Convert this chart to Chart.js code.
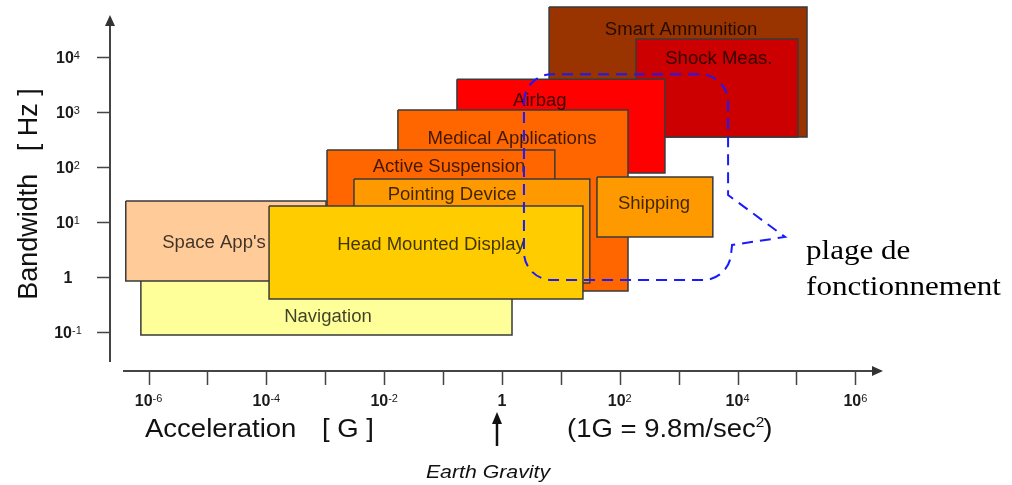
<!DOCTYPE html>
<html>
<head>
<meta charset="utf-8">
<script src="https://cdn.jsdelivr.net/npm/chart.js@4.4.0/dist/chart.umd.min.js"></script>
<style>
  html, body { margin: 0; padding: 0; background: #fff; }
  #wrap { position: relative; width: 1012px; height: 485px; }
</style>
</head>
<body>
<div id="wrap"><canvas id="chart"></canvas></div>
<script>
// application areas, back to front
const areas = ["Smart Ammunition", "Shock Meas.", "Airbag", "Medical Applications", "Active Suspension",
  "Pointing Device", "Shipping", "Navigation", "Space App's", "Head Mounted Display"];
// acceleration range [G]
const accMin = [6.3, 188, 0.172, 0.0171, 1.07e-3, 3.07e-3, 41, 7.4e-7, 4.1e-7, 1.11e-4];
const accMax = [1.51e5, 1.06e5, 585, 138, 7.9, 31, 3.8e3, 1.48, 1.03e-3, 23.7];
// bandwidth range [Hz]
const bwMin = [347, 347, 76.7, 0.55, 0.71, 0.77, 5.27, 0.087, 0.835, 0.394];
const bwMax = [8.0e4, 2.1e4, 3.9e3, 1.07e3, 201, 59.7, 65, 1.3, 23.8, 19.3];
// where each name sits (G, Hz)
const labelAcc = [1.1e3, 4.8e3, 4.4, 1.48, 0.126, 0.142, 381, 1.11e-3, 1.29e-5, 0.0623];
const labelBw = [3.2e4, 9.5e3, 1.63e3, 333, 103, 31.9, 21.9, 0.193, 4.28, 3.94];
const colors = ["#993300", "#cc0000", "#ff0000", "#ff6600", "#ff6600", "#ff9900", "#ff9900", "#ffff99", "#ffcc99", "#ffcc00"];

// "plage de fonctionnement" outline
const rangeAcc = [2.36, 6.9e3];
const rangeBw = [0.87, 4.8e3];
const pointerAt = [6.4e4, 5.27];
const pointerBase = [30.5, 3.77];

// ticks (powers of ten)
const xTickExp = [-6, -5, -4, -3, -2, -1, 0, 1, 2, 3, 4, 5, 6];
const xLabelExp = [-6, -4, -2, 0, 2, 4, 6];
const yTickExp = [-1, 0, 1, 2, 3, 4];

const SANS = '"Liberation Sans", Arial, sans-serif';

const datasets = areas.map((name, i) => ({
  label: name,
  data: [
    { x: accMin[i], y: bwMax[i] }, { x: accMax[i], y: bwMax[i] },
    { x: accMax[i], y: bwMin[i] }, { x: accMin[i], y: bwMin[i] },
    { x: accMin[i], y: bwMax[i] }
  ],
  showLine: true,
  fill: 'shape',
  backgroundColor: colors[i],
  borderColor: '#3a3a3a',
  borderWidth: 1.5,
  pointRadius: 0,
  tension: 0,
  clip: false,
  order: areas.length - i
}));

function txt(ctx, s, x, y, font, align, sx) {
  ctx.save();
  ctx.translate(x, y);
  ctx.scale(sx || 1, 1);
  ctx.font = font;
  ctx.textAlign = align;
  ctx.textBaseline = 'alphabetic';
  ctx.fillText(s, 0, 0);
  ctx.restore();
}

function pow10(ctx, e, cx, base) {
  ctx.fillStyle = '#1a1a1a';
  ctx.textBaseline = 'alphabetic';
  if (e === 0) {
    ctx.font = 'bold 16px ' + SANS;
    ctx.textAlign = 'center';
    ctx.fillText('1', cx, base);
    return;
  }
  ctx.font = 'bold 16px ' + SANS;
  const wb = ctx.measureText('10').width;
  ctx.font = '11px ' + SANS;
  const ws = ctx.measureText(String(e)).width;
  const x0 = cx - (wb + ws) / 2;
  ctx.textAlign = 'left';
  ctx.font = 'bold 16px ' + SANS;
  ctx.fillText('10', x0, base);
  ctx.font = '11px ' + SANS;
  ctx.fillText(String(e), x0 + wb, base - 4);
}

const decor = {
  id: 'decor',
  afterDatasetsDraw(chart) {
    const ctx = chart.ctx;
    const xs = chart.scales.x, ys = chart.scales.y;
    const a = chart.chartArea;
    ctx.save();

    // names of the areas
    ctx.fillStyle = 'rgba(0,0,0,0.75)';
    areas.forEach((name, i) => {
      const px = xs.getPixelForValue(labelAcc[i]);
      const py = ys.getPixelForValue(labelBw[i]);
      txt(ctx, name, px, py + 6, '18px ' + SANS, 'center', 1.03);
    });

    // axes
    ctx.strokeStyle = '#444';
    ctx.fillStyle = '#333';
    ctx.lineWidth = 2;
    const axY = a.bottom, axX = a.left;
    ctx.beginPath();
    ctx.moveTo(a.left + 13, axY);
    ctx.lineTo(a.right - 8, axY);
    ctx.moveTo(axX, a.top + 24);
    ctx.lineTo(axX, axY - 9);
    ctx.stroke();
    ctx.beginPath();
    ctx.moveTo(a.right, axY);
    ctx.lineTo(a.right - 11, axY - 5);
    ctx.lineTo(a.right - 11, axY + 5);
    ctx.closePath();
    ctx.fill();
    ctx.beginPath();
    ctx.moveTo(axX, a.top + 15);
    ctx.lineTo(axX - 5, a.top + 26);
    ctx.lineTo(axX + 5, a.top + 26);
    ctx.closePath();
    ctx.fill();

    ctx.lineWidth = 1.5;
    ctx.beginPath();
    xTickExp.forEach(e => {
      const px = Math.round(xs.getPixelForValue(Math.pow(10, e))) + 0.5;
      ctx.moveTo(px, axY);
      ctx.lineTo(px, axY + 14);
    });
    yTickExp.forEach(e => {
      const py = Math.round(ys.getPixelForValue(Math.pow(10, e))) + 0.5;
      ctx.moveTo(axX - 13, py);
      ctx.lineTo(axX, py);
    });
    ctx.stroke();

    xLabelExp.forEach(e => pow10(ctx, e, xs.getPixelForValue(Math.pow(10, e)), axY + 35));
    yTickExp.forEach(e => pow10(ctx, e, axX - 42, ys.getPixelForValue(Math.pow(10, e)) + 6));

    // axis titles
    ctx.fillStyle = '#111';
    txt(ctx, 'Acceleration', 145, 437, '25px ' + SANS, 'left', 1.1);
    txt(ctx, '[ G ]', 322, 437, '25px ' + SANS, 'left', 1.1);
    ctx.save();
    ctx.translate(37, 194);
    ctx.rotate(-Math.PI / 2);
    ctx.font = '27px ' + SANS;
    ctx.textAlign = 'center';
    ctx.textBaseline = 'alphabetic';
    ctx.fillText('Bandwidth   [ Hz ]', 0, 0);
    ctx.restore();

    ctx.save();
    ctx.font = '25px ' + SANS;
    let gx = 567;
    const p1 = '(1G = 9.8m/sec';
    txt(ctx, p1, gx, 437, '25px ' + SANS, 'left', 1.1);
    gx += ctx.measureText(p1).width * 1.1;
    txt(ctx, '2', gx, 427, '14px ' + SANS, 'left', 1.1);
    ctx.font = '14px ' + SANS;
    gx += ctx.measureText('2').width * 1.1 - 1;
    txt(ctx, ')', gx, 437, '25px ' + SANS, 'left', 1.1);
    ctx.restore();

    // earth gravity marker
    const gxp = Math.round(xs.getPixelForValue(1)) - 5;
    ctx.strokeStyle = '#111';
    ctx.fillStyle = '#111';
    ctx.lineWidth = 2.5;
    ctx.beginPath();
    ctx.moveTo(gxp, 446);
    ctx.lineTo(gxp, 420);
    ctx.stroke();
    ctx.beginPath();
    ctx.moveTo(gxp, 412);
    ctx.lineTo(gxp - 5, 424);
    ctx.lineTo(gxp + 5, 424);
    ctx.closePath();
    ctx.fill();
    txt(ctx, 'Earth Gravity', gxp - 9, 478, 'italic 19px ' + SANS, 'center', 1.12);

    // operating range outline
    const L = xs.getPixelForValue(rangeAcc[0]), R = xs.getPixelForValue(rangeAcc[1]);
    const T = ys.getPixelForValue(rangeBw[1]), B = ys.getPixelForValue(rangeBw[0]);
    const pT = ys.getPixelForValue(pointerBase[0]), pB = ys.getPixelForValue(pointerBase[1]);
    const tx = xs.getPixelForValue(pointerAt[0]), ty = ys.getPixelForValue(pointerAt[1]);
    const r = 28;
    ctx.strokeStyle = '#1a1aff';
    ctx.lineWidth = 2;
    ctx.setLineDash([11, 7]);
    ctx.beginPath();
    ctx.moveTo(L, T + r);
    ctx.arcTo(L, T, L + r, T, r);
    ctx.lineTo(R - r, T);
    ctx.arcTo(R, T, R, T + r, r);
    ctx.lineTo(R, pT);
    ctx.lineTo(tx, ty);
    ctx.lineTo(R + 4, pB);
    ctx.arcTo(R, B, R - r, B, r);
    ctx.lineTo(L + r, B);
    ctx.arcTo(L, B, L, B - r, r);
    ctx.closePath();
    ctx.stroke();
    ctx.setLineDash([]);

    ctx.fillStyle = '#000';
    txt(ctx, 'plage de', tx + 21, ty + 22, '27px "Liberation Serif", "Times New Roman", serif', 'left', 1.15);
    txt(ctx, 'fonctionnement', tx + 21, ty + 58, '27px "Liberation Serif", "Times New Roman", serif', 'left', 1.15);

    ctx.restore();
  }
};

new Chart(document.getElementById('chart').getContext('2d'), {
  type: 'scatter',
  data: { datasets },
  options: {
    responsive: true,
    maintainAspectRatio: false,
    animation: false,
    events: [],
    layout: { padding: { left: 110, right: 129, top: 0, bottom: 114 } },
    scales: {
      x: { type: 'logarithmic', min: Math.pow(10, -6.655), max: Math.pow(10, 6.469), display: false },
      y: { type: 'logarithmic', min: Math.pow(10, -1.715), max: Math.pow(10, 5.031), display: false }
    },
    plugins: { legend: { display: false }, tooltip: { enabled: false } }
  },
  plugins: [decor]
});
</script>
</body>
</html>
